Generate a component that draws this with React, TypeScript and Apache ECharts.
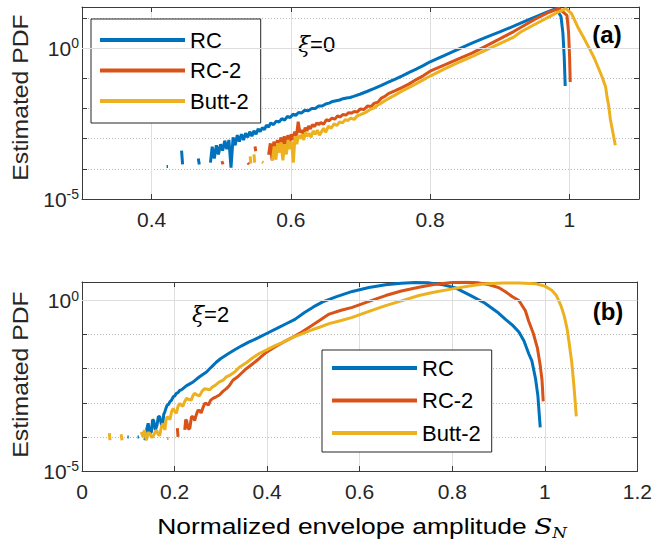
import React, { useEffect, useRef } from 'react';
import * as echarts from 'echarts';

const FONT = '"Liberation Sans", Arial, Helvetica, sans-serif';
const SERIF = '"DejaVu Serif", "Liberation Serif", serif';

const seriesNames = ['RC', 'RC-2', 'Butt-2'];
const seriesColors = ['#0072BD', '#D95319', '#EDB120'];

const topXTicks = [0.4, 0.6, 0.8, 1];
const yLabelExponents = [0, -5];

// Panel (a), xi = 0 : [S_N, PDF]  (null = empty bin)
const topRC: [number, number | null][] = [
  [0.4215, 1.2e-4], [0.4235, 1.2e-4], [0.4245, null],
  [0.443, 4.0e-4], [0.4445, 1.4e-4], [0.4455, null],
  [0.467, 2.2e-4], [0.4685, 1.4e-4], [0.47, null],
  [0.4845, 1.6e-4], [0.487, 5.4e-4], [0.49, 2.2e-4], [0.493, 6.0e-4], [0.496, 3.0e-4], [0.499, 6.5e-4],
  [0.502, 4.0e-4], [0.505, 8.5e-4], [0.508, 4.5e-4], [0.511, 9.0e-4], [0.514, 1.1e-4], [0.517, 1.1e-3],
  [0.52, 6.0e-4], [0.523, 1.3e-3], [0.526, 8.0e-4], [0.529, 1.4e-3], [0.532, 9.0e-4], [0.535, 1.5e-3],
  [0.538, 1.1e-3], [0.541, 1.7e-3], [0.544, 1.2e-3], [0.547, 1.8e-3], [0.55, 1.4e-3], [0.553, 2.1e-3],
  [0.556, 1.7e-3], [0.559, 2.3e-3], [0.562, 2.0e-3], [0.565, 2.8e-3], [0.568, 2.4e-3], [0.571, 3.3e-3],
  [0.575, 2.9e-3], [0.579, 3.8e-3], [0.583, 3.5e-3], [0.587, 4.6e-3], [0.591, 4.1e-3], [0.595, 5.4e-3],
  [0.599, 5.0e-3], [0.603, 6.4e-3], [0.607, 5.9e-3], [0.611, 7.3e-3], [0.615, 7.0e-3], [0.62, 8.7e-3],
  [0.625, 8.4e-3], [0.63, 1.0e-2], [0.635, 1.0e-2], [0.64, 1.2e-2], [0.645, 1.2e-2], [0.65, 1.4e-2],
  [0.655, 1.5e-2], [0.66, 1.7e-2], [0.665, 1.8e-2], [0.67, 1.9e-2], [0.675, 2.1e-2], [0.68, 2.2e-2],
  [0.685, 2.3e-2], [0.69, 2.5e-2], [0.7, 3.0e-2], [0.71, 3.7e-2], [0.72, 4.6e-2], [0.73, 5.8e-2],
  [0.74, 7.4e-2], [0.75, 9.4e-2], [0.76, 0.12], [0.77, 0.155], [0.78, 0.2], [0.79, 0.26], [0.8, 0.35],
  [0.82, 0.56], [0.84, 0.9], [0.86, 1.45], [0.88, 2.25], [0.9, 3.4], [0.92, 5.3], [0.94, 8.4], [0.96, 13],
  [0.975, 18], [0.981, 20], [0.988, 11], [0.9907, 3.1], [0.9926, 0.51], [0.994, 0.055],
];

const topRC2: [number, number | null][] = [
  [0.501, 1.8e-4], [0.5025, 1.4e-4], [0.503, null],
  [0.5385, 1.6e-4], [0.54, 1.4e-4], [0.541, null],
  [0.5485, 5.5e-4], [0.5495, 3.8e-4], [0.5505, null],
  [0.568, 2.9e-4], [0.5705, 7.0e-4], [0.573, 1.9e-4], [0.5755, 8.0e-4], [0.578, 4.0e-4], [0.5805, 9.0e-4],
  [0.583, 3.5e-4], [0.5855, 1.1e-3], [0.588, 6.0e-4], [0.5905, 1.2e-3], [0.593, 5.0e-4], [0.5955, 1.3e-3],
  [0.598, 7.5e-4], [0.6005, 1.4e-3], [0.603, 9.0e-4], [0.6055, 1.7e-3], [0.608, 1.2e-3], [0.6105, 3.6e-3],
  [0.613, 1.6e-3], [0.6155, 1.9e-3], [0.618, 1.4e-3], [0.6205, 2.3e-3], [0.623, 1.8e-3], [0.6255, 2.6e-3],
  [0.628, 2.1e-3], [0.631, 2.9e-3], [0.634, 2.5e-3], [0.637, 3.3e-3], [0.64, 2.9e-3], [0.643, 3.4e-3],
  [0.647, 3.0e-3], [0.651, 4.2e-3], [0.655, 3.9e-3], [0.659, 4.8e-3], [0.663, 4.4e-3], [0.667, 5.6e-3],
  [0.671, 5.2e-3], [0.675, 6.3e-3], [0.679, 6.0e-3], [0.683, 7.2e-3], [0.687, 7.0e-3], [0.691, 7.9e-3],
  [0.695, 7.6e-3], [0.7, 9.6e-3], [0.705, 9.2e-3], [0.71, 1.2e-2], [0.715, 1.15e-2], [0.72, 1.5e-2],
  [0.725, 1.6e-2], [0.73, 2.2e-2], [0.735, 2.5e-2], [0.74, 3.1e-2], [0.75, 3.9e-2], [0.76, 5.0e-2],
  [0.77, 6.5e-2], [0.78, 9.0e-2], [0.79, 0.12], [0.8, 0.17], [0.82, 0.27], [0.84, 0.43], [0.86, 0.68],
  [0.88, 1.15], [0.9, 2.0], [0.92, 3.5], [0.93, 4.8], [0.95, 8.9], [0.97, 15], [0.985, 20.5],
  [0.9965, 12], [0.9989, 3.1], [1.0003, 0.51], [1.0012, 0.075],
];

const topButt2: [number, number | null][] = [
  [0.5415, 2.6e-4], [0.5425, 1.5e-4], [0.543, null],
  [0.547, 3.0e-4], [0.548, 1.6e-4], [0.5485, null],
  [0.5585, 1.7e-4], [0.5605, 1.6e-4], [0.5615, null],
  [0.5735, 1.9e-4], [0.576, 5.5e-4], [0.5785, 2.0e-4], [0.581, 7.0e-4], [0.5835, 3.5e-4], [0.586, 7.5e-4],
  [0.5885, 1.9e-4], [0.591, 6.5e-4], [0.5935, 3.0e-4], [0.596, 9.0e-4], [0.5985, 4.5e-4], [0.601, 8.0e-4],
  [0.6035, 1.6e-4], [0.606, 1.2e-3], [0.6085, 6.5e-4], [0.611, 1.3e-3], [0.6135, 1.0e-3], [0.616, 1.4e-3],
  [0.6185, 9.0e-4], [0.621, 1.6e-3], [0.6235, 1.2e-3], [0.626, 1.5e-3], [0.629, 1.1e-3], [0.632, 1.8e-3],
  [0.635, 1.4e-3], [0.638, 1.9e-3], [0.641, 1.3e-3], [0.644, 1.7e-3], [0.647, 2.2e-3], [0.65, 1.6e-3],
  [0.654, 2.6e-3], [0.658, 2.2e-3], [0.662, 3.1e-3], [0.666, 2.7e-3], [0.67, 3.6e-3], [0.674, 3.3e-3],
  [0.678, 4.2e-3], [0.682, 4.0e-3], [0.686, 4.8e-3], [0.691, 4.3e-3], [0.695, 5.6e-3], [0.7, 6.2e-3],
  [0.705, 7.0e-3], [0.71, 8.0e-3], [0.715, 9.5e-3], [0.72, 1.05e-2], [0.725, 1.3e-2], [0.73, 1.5e-2],
  [0.735, 1.8e-2], [0.74, 2.1e-2], [0.75, 2.8e-2], [0.76, 3.8e-2], [0.77, 5.0e-2], [0.78, 6.6e-2],
  [0.79, 8.8e-2], [0.8, 0.118], [0.82, 0.2], [0.84, 0.33], [0.86, 0.52], [0.88, 0.85], [0.9, 1.4],
  [0.92, 2.3], [0.93, 3.4], [0.95, 6.0], [0.97, 10.5], [0.985, 16], [0.995, 20], [1.003, 14],
  [1.013, 4.5], [1.022, 1.9], [1.03, 0.85], [1.036, 0.45], [1.042, 0.21], [1.047, 0.11], [1.052, 5.2e-2],
  [1.054, 2.5e-2], [1.0565, 1.2e-2], [1.059, 4.2e-3], [1.0625, 1.6e-3], [1.066, 6.0e-4],
];

// Panel (b), xi = 2
const botRC: [number, number | null][] = [
  [0.098, 1.0e-4], [0.101, 1.0e-4], [0.102, null],
  [0.12, 1.0e-4], [0.123, 1.0e-4], [0.124, null],
  [0.136, 8.0e-5], [0.1395, 1.6e-4], [0.143, 2.5e-4], [0.1465, 1.3e-4], [0.15, 1.4e-4], [0.1525, 3.2e-4],
  [0.155, 3.0e-4], [0.1585, 1.6e-4], [0.162, 2.2e-4], [0.165, 4.0e-4], [0.168, 3.9e-4], [0.171, 2.5e-4],
  [0.174, 2.0e-4], [0.1765, 4.5e-4], [0.179, 5.5e-4], [0.1815, 7.0e-4], [0.184, 8.5e-4], [0.187, 9.0e-4],
  [0.19, 1.07e-3], [0.1935, 1.2e-3], [0.197, 1.5e-3], [0.2005, 1.6e-3], [0.204, 1.9e-3], [0.2075, 2.0e-3],
  [0.211, 2.3e-3], [0.2145, 2.4e-3], [0.218, 2.6e-3], [0.222, 2.9e-3], [0.226, 3.2e-3], [0.233, 3.6e-3],
  [0.24, 4.1e-3], [0.247, 4.9e-3], [0.254, 5.8e-3], [0.261, 6.8e-3], [0.269, 8.0e-3], [0.279, 1.1e-2],
  [0.29, 1.55e-2], [0.3, 2.0e-2], [0.315, 2.7e-2], [0.33, 3.6e-2], [0.345, 4.7e-2], [0.36, 6.0e-2],
  [0.38, 8.0e-2], [0.4, 0.11], [0.42, 0.15], [0.44, 0.205], [0.46, 0.28], [0.48, 0.44], [0.5, 0.65],
  [0.52, 0.91], [0.55, 1.3], [0.584, 1.85], [0.62, 2.4], [0.656, 2.9], [0.69, 3.2], [0.72, 3.4],
  [0.75, 3.3], [0.78, 2.9], [0.807, 2.35], [0.84, 1.4], [0.87, 0.85], [0.9, 0.43], [0.915, 0.28],
  [0.93, 0.19], [0.944, 0.12], [0.955, 0.065], [0.965, 0.028], [0.972, 0.017], [0.98, 5.0e-3],
  [0.985, 1.6e-3], [0.99, 1.9e-4],
];

const botRC2: [number, number | null][] = [
  [0.1845, 9.0e-5], [0.1865, 9.0e-5], [0.187, null],
  [0.206, 1.8e-4], [0.2075, 1.0e-4], [0.208, null],
  [0.222, 1.6e-4], [0.224, 3.2e-4], [0.226, 3.0e-4], [0.2295, 1.7e-4], [0.233, 1.8e-4], [0.2365, 3.9e-4],
  [0.24, 3.9e-4], [0.2435, 3.0e-4], [0.247, 4.5e-4], [0.2505, 6.0e-4], [0.254, 6.0e-4], [0.2575, 5.0e-4],
  [0.261, 7.0e-4], [0.265, 9.5e-4], [0.269, 9.5e-4], [0.273, 8.5e-4], [0.278, 1.2e-3], [0.283, 1.35e-3],
  [0.29, 1.5e-3], [0.297, 1.7e-3], [0.305, 2.2e-3], [0.312, 2.6e-3], [0.319, 3.3e-3], [0.326, 4.6e-3],
  [0.335, 5.6e-3], [0.345, 7.5e-3], [0.355, 1.0e-2], [0.369, 1.4e-2], [0.383, 2.0e-2], [0.398, 3.0e-2],
  [0.415, 4.2e-2], [0.435, 6.0e-2], [0.455, 8.3e-2], [0.475, 0.12], [0.495, 0.18], [0.513, 0.26],
  [0.534, 0.4], [0.56, 0.52], [0.584, 0.63], [0.62, 0.95], [0.656, 1.4], [0.69, 1.9], [0.728, 2.45],
  [0.76, 2.95], [0.8, 3.4], [0.83, 3.45], [0.857, 3.3], [0.88, 2.9], [0.9, 2.4], [0.915, 1.8],
  [0.93, 1.3], [0.944, 1.0], [0.958, 0.5], [0.965, 0.25], [0.975, 0.11], [0.984, 0.04], [0.99, 0.0126],
  [0.994, 4.5e-3], [0.9965, 1.1e-3],
];

const botButt2: [number, number | null][] = [
  [0.059, 1.3e-4], [0.0605, 8.0e-5], [0.061, null],
  [0.0845, 1.2e-4], [0.0865, 8.0e-5], [0.087, null],
  [0.128, 1.4e-4], [0.132, 1.0e-4], [0.135, 1.6e-4], [0.139, 8.0e-5], [0.1425, 1.3e-4], [0.146, 1.3e-4],
  [0.1495, 1.0e-4], [0.153, 1.0e-4], [0.157, 1.3e-4], [0.161, 1.6e-4], [0.1645, 1.2e-4], [0.168, 1.1e-4],
  [0.1715, 2.0e-4], [0.175, 2.5e-4], [0.179, 1.6e-4], [0.1815, 3.0e-4], [0.184, 3.9e-4], [0.187, 3.6e-4],
  [0.19, 3.2e-4], [0.1935, 5.5e-4], [0.197, 6.8e-4], [0.2005, 5.5e-4], [0.204, 5.0e-4], [0.2075, 8.0e-4],
  [0.211, 9.5e-4], [0.2145, 8.5e-4], [0.218, 8.0e-4], [0.222, 1.1e-3], [0.226, 1.35e-3], [0.231, 1.25e-3],
  [0.236, 1.2e-3], [0.2395, 1.6e-3], [0.243, 1.9e-3], [0.2485, 1.7e-3], [0.254, 1.6e-3], [0.2595, 2.2e-3],
  [0.265, 2.6e-3], [0.2705, 2.5e-3], [0.276, 2.4e-3], [0.2815, 2.9e-3], [0.287, 3.2e-3], [0.297, 4.1e-3],
  [0.305, 4.6e-3], [0.312, 5.8e-3], [0.32, 6.5e-3], [0.33, 8.0e-3], [0.34, 1.1e-2], [0.355, 1.5e-2],
  [0.369, 2.1e-2], [0.383, 2.8e-2], [0.398, 3.5e-2], [0.415, 4.6e-2], [0.435, 6.0e-2], [0.455, 8.3e-2],
  [0.475, 0.105], [0.495, 0.135], [0.513, 0.165], [0.534, 0.21], [0.56, 0.26], [0.584, 0.32],
  [0.62, 0.48], [0.656, 0.71], [0.69, 0.98], [0.728, 1.41], [0.76, 1.75], [0.8, 2.2], [0.84, 2.7],
  [0.872, 3.1], [0.91, 3.25], [0.944, 3.25], [0.98, 3.1], [1.0, 2.65], [1.015, 2.0], [1.025, 1.4],
  [1.035, 0.7], [1.042, 0.35], [1.048, 0.15], [1.052, 0.065], [1.055, 3.2e-2], [1.058, 1.6e-2],
  [1.061, 6.0e-3], [1.063, 3.0e-3], [1.066, 9.0e-4], [1.068, 4.0e-4],
];

const topSeriesData = [topRC, topRC2, topButt2];
const botSeriesData = [botRC, botRC2, botButt2];

const AXIS_COLOR = '#3a3a3a';
const LABEL_COLOR = '#262626';
const MAJOR_GRID = '#dedede';
const MINOR_GRID = '#b8b8b8';

function toData(arr: [number, number | null][]) {
  return arr.map(([x, y]) => [x, y === null ? '-' : y]);
}

function logLabel(v: number) {
  const l = Math.log10(v);
  const e = Math.round(l);
  if (Math.abs(l - e) > 1e-6) return '';
  if (yLabelExponents.indexOf(e) >= 0) return `{b|10}{s|${e}}`;
  return '';
}

const yRich = {
  b: { fontSize: 21, fontFamily: FONT, color: LABEL_COLOR, lineHeight: 24 },
  s: { fontSize: 14, fontFamily: FONT, color: LABEL_COLOR, lineHeight: 10, verticalAlign: 'top' },
};

function makeYAxes(gridIndex: number, max: number) {
  return [
    {
      type: 'log', logBase: 10, gridIndex, min: 1e-5, max, position: 'left',
      axisLine: { show: true, onZero: false, lineStyle: { color: AXIS_COLOR, width: 1 } },
      axisTick: { show: true, inside: true, length: 5, lineStyle: { color: AXIS_COLOR } },
      axisLabel: { show: true, margin: 3, formatter: logLabel, rich: yRich },
      splitLine: { show: true, lineStyle: { color: MINOR_GRID, type: [1, 2], width: 1 } },
    },
    {
      type: 'log', logBase: 10, gridIndex, min: 1e-5, max, position: 'right',
      axisLine: { show: true, onZero: false, lineStyle: { color: AXIS_COLOR, width: 1 } },
      axisTick: { show: true, inside: true, length: 5, lineStyle: { color: AXIS_COLOR } },
      axisLabel: { show: false },
      splitLine: { show: false },
    },
  ];
}

export default function App() {
  const ref = useRef<HTMLDivElement>(null);

  useEffect(() => {
    if (!ref.current) return;
    const chart = echarts.init(ref.current, undefined, { renderer: 'svg' });

    const xLabelStyle = { fontSize: 21, fontFamily: FONT, color: LABEL_COLOR, margin: 10 };

    const series: any[] = [];
    seriesNames.forEach((name, i) => {
      series.push({
        name, type: 'line', xAxisIndex: 0, yAxisIndex: 0, symbol: 'none', z: 3,
        lineStyle: { width: 3, color: seriesColors[i] }, itemStyle: { color: seriesColors[i] },
        connectNulls: false, data: toData(topSeriesData[i]),
      });
    });
    seriesNames.forEach((name, i) => {
      series.push({
        name, type: 'line', xAxisIndex: 2, yAxisIndex: 2, symbol: 'none', z: 3,
        lineStyle: { width: 3, color: seriesColors[i] }, itemStyle: { color: seriesColors[i] },
        connectNulls: false, data: toData(botSeriesData[i]),
      });
    });
    // solid major grid line at 10^0 in each panel
    [[0, 0], [2, 2]].forEach(([xi, yi]) => {
      series.push({
        name: '_major', type: 'line', xAxisIndex: xi, yAxisIndex: yi, data: [], z: 1, silent: true,
        markLine: {
          symbol: 'none', silent: true, label: { show: false },
          lineStyle: { color: MAJOR_GRID, type: 'solid', width: 1 },
          data: [{ yAxis: 1 }],
        },
      });
    });

    const legendBase = {
      data: seriesNames, orient: 'vertical', itemWidth: 85, itemHeight: 14,
      icon: 'path://M0,0 L85,0 L85,4 L0,4 Z',
      backgroundColor: '#ffffff', borderColor: '#262626', borderWidth: 1, borderRadius: 0,
      selectedMode: false,
      itemStyle: { borderWidth: 0 },
      lineStyle: { width: 0 },
      textStyle: { fontSize: 22, fontFamily: FONT, color: '#000', lineHeight: 22 },
    };

    const option: any = {
      animation: false,
      grid: [
        { left: 82, top: 7, width: 557, height: 192 },
        { left: 82, top: 282, width: 557, height: 189 },
      ],
      xAxis: [
        {
          type: 'value', gridIndex: 0, min: 0.3, max: 1.1, position: 'bottom',
          axisLine: { show: true, onZero: false, lineStyle: { color: AXIS_COLOR, width: 1 } },
          axisTick: { show: true, inside: true, length: 5, customValues: topXTicks, lineStyle: { color: AXIS_COLOR } },
          axisLabel: { ...xLabelStyle, customValues: topXTicks },
          splitLine: { show: true, lineStyle: { color: MAJOR_GRID, width: 1 } },
        },
        {
          type: 'value', gridIndex: 0, min: 0.3, max: 1.1, position: 'top',
          axisLine: { show: true, onZero: false, lineStyle: { color: AXIS_COLOR, width: 1 } },
          axisTick: { show: true, inside: true, length: 5, customValues: topXTicks, lineStyle: { color: AXIS_COLOR } },
          axisLabel: { show: false, customValues: topXTicks },
          splitLine: { show: false },
        },
        {
          type: 'value', gridIndex: 1, min: 0, max: 1.2, interval: 0.2, position: 'bottom',
          axisLine: { show: true, onZero: false, lineStyle: { color: AXIS_COLOR, width: 1 } },
          axisTick: { show: true, inside: true, length: 5, lineStyle: { color: AXIS_COLOR } },
          axisLabel: { ...xLabelStyle },
          splitLine: { show: true, lineStyle: { color: MAJOR_GRID, width: 1 } },
        },
        {
          type: 'value', gridIndex: 1, min: 0, max: 1.2, interval: 0.2, position: 'top',
          axisLine: { show: true, onZero: false, lineStyle: { color: AXIS_COLOR, width: 1 } },
          axisTick: { show: true, inside: true, length: 5, lineStyle: { color: AXIS_COLOR } },
          axisLabel: { show: false },
          splitLine: { show: false },
        },
      ],
      yAxis: [...makeYAxes(0, 22.8), ...makeYAxes(1, 3.5)],
      legend: [
        { ...legendBase, left: 91, top: 19, padding: [10, 12, 11, 9], itemGap: 8.5 },
        { ...legendBase, left: 322, top: 350, padding: [7, 11, 8, 10], itemGap: 10.5 },
      ],
      graphic: [
        {
          type: 'text', x: 20, y: 97.5, rotation: Math.PI / 2, scaleX: 1.1, silent: true,
          style: { text: 'Estimated PDF', fontSize: 22.5, fontFamily: FONT, fill: LABEL_COLOR, align: 'center', verticalAlign: 'middle' },
        },
        {
          type: 'text', x: 20, y: 374.5, rotation: Math.PI / 2, scaleX: 1.1, silent: true,
          style: { text: 'Estimated PDF', fontSize: 22.5, fontFamily: FONT, fill: LABEL_COLOR, align: 'center', verticalAlign: 'middle' },
        },
        {
          type: 'text', x: 362, y: 526, scaleX: 1.2, silent: true,
          style: {
            text: '{a|Normalized envelope amplitude }{s|S}{n|N}',
            align: 'center', verticalAlign: 'middle',
            rich: {
              a: { fontSize: 22, fontFamily: FONT, fill: '#000', lineHeight: 28 },
              s: { fontSize: 22, fontFamily: SERIF, fontStyle: 'italic', fill: '#000', lineHeight: 28 },
              n: { fontSize: 14, fontFamily: SERIF, fontStyle: 'italic', fill: '#000', lineHeight: 16, verticalAlign: 'bottom' },
            },
          },
        },
        {
          type: 'text', x: 298, y: 44, silent: true,
          style: {
            text: '{i|ξ}{t|=0}', align: 'left', verticalAlign: 'middle',
            rich: {
              i: { fontSize: 22, fontFamily: SERIF, fontStyle: 'italic', fill: '#000' },
              t: { fontSize: 22, fontFamily: FONT, fill: '#000' },
            },
          },
        },
        {
          type: 'text', x: 192, y: 314, silent: true,
          style: {
            text: '{i|ξ}{t|=2}', align: 'left', verticalAlign: 'middle',
            rich: {
              i: { fontSize: 22, fontFamily: SERIF, fontStyle: 'italic', fill: '#000' },
              t: { fontSize: 22, fontFamily: FONT, fill: '#000' },
            },
          },
        },
        {
          type: 'text', x: 607, y: 34, silent: true,
          style: { text: '(a)', fontSize: 24, fontWeight: 'bold', fontFamily: FONT, fill: '#000', align: 'center', verticalAlign: 'middle' },
        },
        {
          type: 'text', x: 608, y: 311, silent: true,
          style: { text: '(b)', fontSize: 24, fontWeight: 'bold', fontFamily: FONT, fill: '#000', align: 'center', verticalAlign: 'middle' },
        },
      ],
      series,
    };

    chart.setOption(option);
    return () => chart.dispose();
  }, []);

  return (
    <div
      ref={ref}
      style={{ position: 'fixed', left: 0, top: 0, width: 655, height: 541, background: '#ffffff' }}
    />
  );
}
